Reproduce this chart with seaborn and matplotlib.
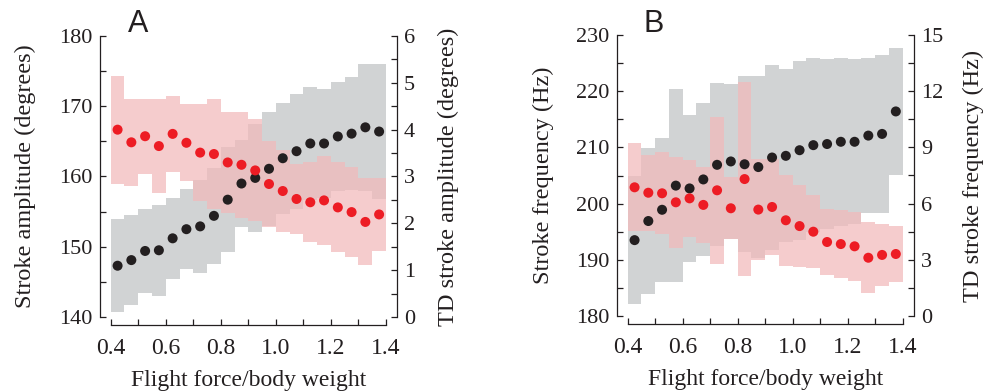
import numpy as np
import matplotlib
matplotlib.use("Agg")
import matplotlib.pyplot as plt
from matplotlib.ticker import MultipleLocator
import seaborn as sns

# ---------------- data ----------------
force_bins = [0.425, 0.475, 0.525, 0.575, 0.625, 0.675, 0.725, 0.775, 0.825, 0.875,
              0.925, 0.975, 1.025, 1.075, 1.125, 1.175, 1.225, 1.275, 1.325, 1.375]
bin_width = 0.05

amp_mean = [147.3, 148.1, 149.4, 149.5, 151.2, 152.5, 152.9, 154.4, 156.7, 159.0,
            159.8, 161.1, 162.6, 163.6, 164.7, 164.7, 165.7, 166.1, 167.0, 166.4]
amp_sd = [6.6, 6.4, 6.0, 6.5, 5.75, 5.7, 6.65, 6.85, 7.5, 6.2,
          7.7, 8.1, 7.9, 8.2, 8.0, 7.8, 7.8, 8.0, 9.0, 9.6]
td_amp_mean = [4.00, 3.73, 3.86, 3.65, 3.91, 3.72, 3.51, 3.48, 3.30, 3.25,
               3.13, 2.84, 2.69, 2.52, 2.45, 2.49, 2.34, 2.24, 2.03, 2.19]
td_amp_sd = [1.15, 0.93, 0.80, 1.01, 0.81, 0.82, 1.03, 1.18, 1.08, 1.13,
             1.09, 0.92, 0.88, 0.74, 0.85, 0.95, 0.96, 0.96, 0.93, 0.78]

freq_mean = [193.5, 196.9, 198.9, 203.2, 202.7, 204.3, 206.9, 207.5, 207.0, 206.5,
             208.2, 208.5, 209.5, 210.4, 210.6, 211.0, 211.0, 212.1, 212.4, 216.4]
freq_sd = [11.4, 13.0, 12.8, 17.2, 13.1, 13.6, 14.5, 13.8, 15.7, 16.2,
           16.5, 15.4, 15.9, 15.5, 15.1, 14.9, 14.7, 13.8, 14.0, 11.3]
td_freq_mean = [6.87, 6.58, 6.55, 6.07, 6.28, 5.93, 6.71, 5.75, 7.31, 5.68,
                5.82, 5.11, 4.80, 4.50, 3.95, 3.84, 3.72, 3.11, 3.26, 3.31]
td_freq_sd = [2.35, 2.04, 2.18, 2.43, 2.05, 2.02, 3.91, 1.66, 5.2, 2.7,
              2.58, 2.43, 2.2, 1.96, 1.78, 1.82, 1.84, 1.9, 1.67, 1.51]

x_ticks = [0.4, 0.6, 0.8, 1.0, 1.2, 1.4]
x_label = "Flight force/body weight"

# ---------------- style ----------------
sns.set_style("ticks")
plt.rcParams["font.family"] = ["Liberation Serif", "DejaVu Serif"]

GRAY = "#d1d3d4"
PINK = "#f2b9ba"
PINK_ALPHA = 0.72
BLACK = "#231f20"
RED = "#ed1c24"
INK = "#231f20"
FS_XTICK = 17
FS_YTICK = 16
FS_XLABEL = 17
FS_YLABEL = 17.5

fig = plt.figure(figsize=(9.83, 3.91), dpi=100)


def panel(rect, m, sd, tm, tsd, ylim, ymaj, ymin, tylim, tmaj, tmin,
          ylabel, tlabel, letter, letter_xy, lpad, rpad):
    x = np.array(force_bins)
    m = np.array(m); sd = np.array(sd)
    tm = np.array(tm); tsd = np.array(tsd)
    ax = fig.add_axes(rect)
    ax2 = ax.twinx()
    ax.bar(x, 2 * sd, bottom=m - sd, width=bin_width, color=GRAY,
           linewidth=0, zorder=1)
    ax2.bar(x, 2 * tsd, bottom=tm - tsd, width=bin_width, color=PINK,
            alpha=PINK_ALPHA, linewidth=0, zorder=1)
    sns.scatterplot(x=x, y=m, ax=ax2, transform=ax.transData, color=BLACK,
                    s=52, edgecolor="none", linewidth=0, zorder=2)
    sns.scatterplot(x=x, y=tm, ax=ax2, color=RED, s=52, edgecolor="none",
                    linewidth=0, zorder=3)

    ax.set_xlim(0.4, 1.4)
    ax.set_ylim(*ylim)
    ax2.set_ylim(*tylim)

    ax.set_xticks(x_ticks)
    ax.xaxis.set_minor_locator(MultipleLocator(0.1))
    ax.yaxis.set_major_locator(MultipleLocator(ymaj))
    ax.yaxis.set_minor_locator(MultipleLocator(ymin))
    ax2.yaxis.set_major_locator(MultipleLocator(tmaj))
    ax2.yaxis.set_minor_locator(MultipleLocator(tmin))

    for a in (ax, ax2):
        a.tick_params(which="both", direction="in", length=4, width=0.9,
                      color=INK, labelcolor=INK)
    ax.tick_params(axis="x", which="both", pad=9, labelsize=FS_XTICK)
    ax.tick_params(axis="y", which="both", pad=5, labelsize=FS_YTICK)
    ax2.tick_params(axis="y", which="both", pad=5, labelsize=FS_YTICK)

    ax.spines[["top", "right"]].set_visible(False)
    ax2.spines[["top", "left", "bottom"]].set_visible(False)
    ax.spines["left"].set_position(("outward", 8))
    ax.spines["bottom"].set_position(("outward", 6))
    ax2.spines["right"].set_position(("outward", 8))
    for sp in (ax.spines["left"], ax.spines["bottom"], ax2.spines["right"]):
        sp.set_linewidth(0.9)
        sp.set_color(INK)

    ax.set_xlabel(x_label, fontsize=FS_XLABEL, labelpad=8, color=INK)
    ax.set_ylabel(ylabel, fontsize=FS_YLABEL, labelpad=lpad, color=INK)
    ax2.set_ylabel(tlabel, fontsize=FS_YLABEL, labelpad=rpad, color=INK)
    ax2.set_xlim(0.4, 1.4)

    fig.text(letter_xy[0], letter_xy[1], letter, ha="center", va="center",
             fontsize=22, family=["Liberation Sans", "DejaVu Sans"],
             color=INK)
    return ax, ax2


W, H = 983.0, 391.0
panel([110.7 / W, (H - 317) / H, 275.3 / W, 281 / H],
      amp_mean, amp_sd, td_amp_mean, td_amp_sd,
      (140, 180), 10, 5, (0, 6), 1, 0.5,
      "Stroke amplitude (degrees)", "TD stroke amplitude (degrees)",
      "A", (138 / W, 1 - 24 / H), 16.5, 16)

panel([627.7 / W, (H - 316) / H, 275 / W, 281 / H],
      freq_mean, freq_sd, td_freq_mean, td_freq_sd,
      (180, 230), 10, 5, (0, 15), 3, 1.5,
      "Stroke frequency (Hz)", "TD stroke frequency (Hz)",
      "B", (654 / W, 1 - 24 / H), 16, 14)

fig.savefig("out.png", dpi=100)
